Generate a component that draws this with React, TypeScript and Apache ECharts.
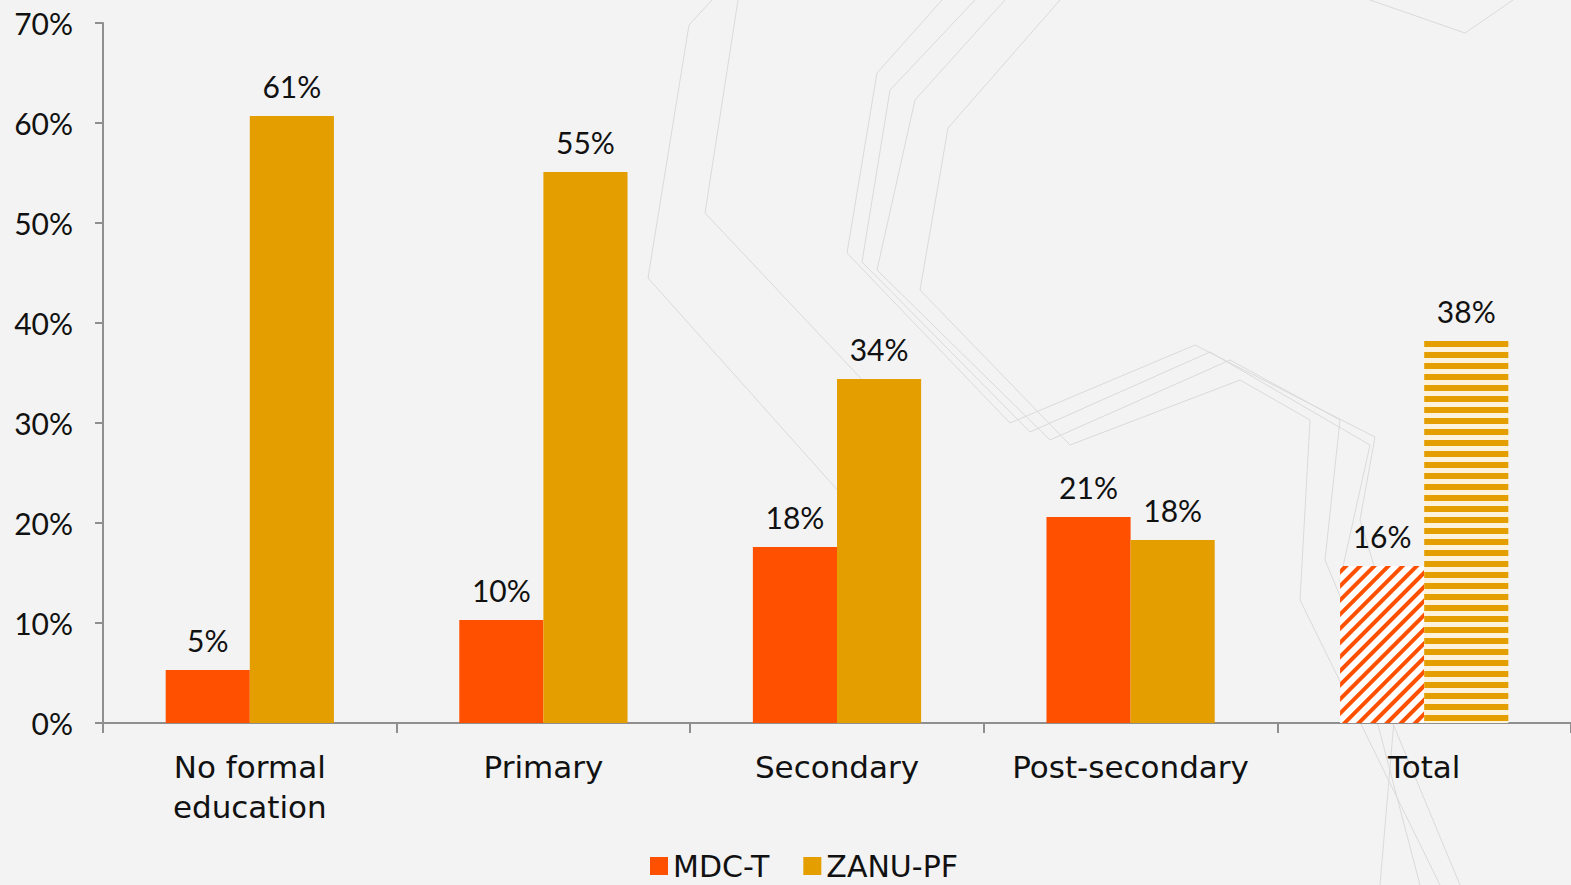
import React, { useEffect, useRef } from "react";
import * as echarts from "echarts";

const categories = ["No formal\neducation", "Primary", "Secondary", "Post-secondary", "Total"];
const seriesNames = ["MDC-T", "ZANU-PF"];
const mdcValues = [5.3, 10.3, 17.6, 20.6, 15.7];
const zanuValues = [60.7, 55.1, 34.4, 18.3, 38.2];
const yTicks = [0, 10, 20, 30, 40, 50, 60, 70];

const MDC_COLOR = "#FF5000";
const ZANU_COLOR = "#E59E00";
const NUM_FONT = "Lato";
const WORD_FONT = "DejaVu Sans";

const decoLines: number[][][] = [
  [[712, 0], [689, 25], [648, 278], [900, 560]],
  [[738, 0], [705, 213], [900, 420]],
  [[942, 0], [877, 73], [847, 253], [1010, 423], [1195, 345], [1375, 437], [1360, 520], [1400, 650], [1380, 885]],
  [[975, 0], [890, 90], [862, 262], [1030, 432], [1210, 352], [1370, 445], [1340, 580], [1420, 885]],
  [[1005, 0], [915, 100], [877, 270], [1050, 440], [1230, 360], [1340, 420], [1325, 560], [1460, 885]],
  [[1060, 0], [948, 128], [920, 290], [1070, 445], [1240, 380], [1310, 420], [1300, 600], [1440, 885]],
  [[1370, 0], [1465, 33], [1513, 0]],
];

export default function App() {
  const ref = useRef<HTMLDivElement>(null);
  useEffect(() => {
    if (!ref.current) return;
    const chart = echarts.init(ref.current, null, { renderer: "svg" });
    const last = categories.length - 1;
    const labelFmt = (p: any) => Math.round(p.value) + "%";
    const barLabel = {
      show: true,
      position: "top",
      distance: 15,
      fontFamily: NUM_FONT,
      fontSize: 30,
      color: "#111",
      formatter: labelFmt,
    };
    chart.setOption({
      animation: false,
      backgroundColor: "#f3f3f3",
      textStyle: { fontFamily: NUM_FONT },
      graphic: decoLines.map((pts) => ({
        type: "polyline",
        silent: true,
        z: -10,
        shape: { points: pts },
        style: { stroke: "#dadada", lineWidth: 1, fill: null },
      })),
      grid: { left: 103, right: -3, top: 23, bottom: 162, containLabel: false },
      legend: {
        data: seriesNames,
        top: 851,
        left: 650,
        icon: "rect",
        itemWidth: 18,
        itemHeight: 18,
        itemGap: 34,
        padding: 0,
        textStyle: { fontFamily: WORD_FONT, fontSize: 30, color: "#111", lineHeight: 30 },
      },
      xAxis: {
        type: "category",
        data: categories,
        axisLine: { lineStyle: { color: "#8f8f8f", width: 2 } },
        axisTick: { show: true, length: 10, lineStyle: { color: "#8f8f8f", width: 2 } },
        axisLabel: {
          fontFamily: WORD_FONT,
          fontSize: 31,
          color: "#111",
          margin: 24,
          lineHeight: 40,
          interval: 0,
        },
      },
      yAxis: {
        type: "value",
        min: 0,
        max: 70,
        interval: 10,
        splitLine: { show: false },
        axisLine: { show: true, lineStyle: { color: "#8f8f8f", width: 2 } },
        axisTick: { show: true, length: 8, lineStyle: { color: "#8f8f8f", width: 2 } },
        axisLabel: {
          fontFamily: NUM_FONT,
          fontSize: 30,
          color: "#111",
          margin: 30,
          formatter: (v: number) => (yTicks.includes(v) ? v + "%" : ""),
        },
      },
      series: [
        {
          name: seriesNames[0],
          type: "bar",
          barGap: "0%",
          barCategoryGap: "42.7%",
          itemStyle: { color: MDC_COLOR },
          label: barLabel,
          data: mdcValues.map((v, i) =>
            i === last
              ? {
                  value: v,
                  itemStyle: {
                    color: "#ffffff",
                    decal: {
                      symbol: "rect",
                      symbolSize: 1,
                      color: MDC_COLOR,
                      dashArrayX: [1, 0],
                      dashArrayY: [4, 6],
                      rotation: -Math.PI / 4,
                    },
                  },
                }
              : v
          ),
        },
        {
          name: seriesNames[1],
          type: "bar",
          barGap: "0%",
          barCategoryGap: "42.7%",
          itemStyle: { color: ZANU_COLOR },
          label: barLabel,
          data: zanuValues.map((v, i) =>
            i === last
              ? {
                  value: v,
                  itemStyle: {
                    color: "#fdf3dc",
                    decal: {
                      symbol: "rect",
                      symbolSize: 1,
                      color: ZANU_COLOR,
                      dashArrayX: [1, 0],
                      dashArrayY: [6, 5],
                      rotation: 0,
                    },
                  },
                }
              : v
          ),
        },
      ],
    });
    return () => chart.dispose();
  }, []);
  return (
    <div
      ref={ref}
      style={{ position: "absolute", left: 0, top: 0, width: 1571, height: 885 }}
    />
  );
}
